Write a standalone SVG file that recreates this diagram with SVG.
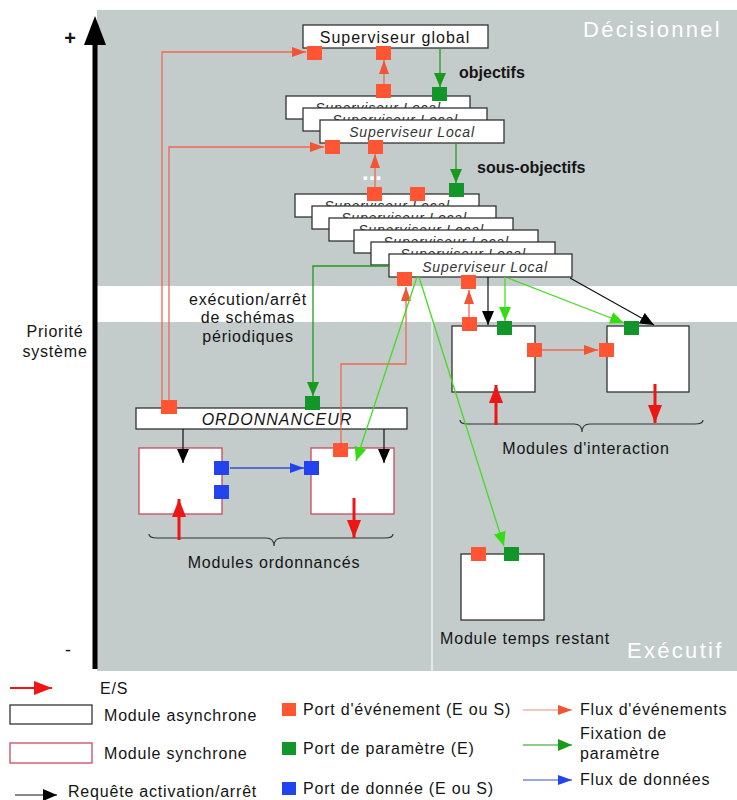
<svg xmlns="http://www.w3.org/2000/svg" width="737" height="800" viewBox="0 0 737 800">
<style>
text{font-family:"Liberation Sans",Arial,sans-serif;fill:#151515}
.t16{font-size:16px;letter-spacing:0.8px}
.bold{font-size:16px;font-weight:bold}
.big{font-size:22px;fill:#ffffff;letter-spacing:2.3px}
.loc{font-size:14px;font-style:italic;letter-spacing:0.8px;fill:#333}
.box{fill:#ffffff;stroke:#333;stroke-width:1.3}
.sync{fill:#ffffff;stroke:#c84a5e;stroke-width:1.3}
.pe{fill:#ff5533}
.pp{fill:#11962a}
.pd{fill:#2244ee}
.ev{fill:none;stroke:#ee6a50;stroke-width:1.3}
.gd{fill:none;stroke:#229a22;stroke-width:1.3}
.gl{fill:none;stroke:#44dd22;stroke-width:1.3}
.bk{fill:none;stroke:#111;stroke-width:1.2}
.bl{fill:none;stroke:#3350cc;stroke-width:1.3}
.io{fill:none;stroke:#ee1515;stroke-width:3}
.brace{fill:none;stroke:#333;stroke-width:1.2}
</style>
<defs>
<marker id="mEv" viewBox="0 0 14 10" refX="14" refY="5" markerWidth="14" markerHeight="10" orient="auto" markerUnits="userSpaceOnUse"><path d="M0,0 L14,5 L0,10 z" fill="#f25535"/></marker>
<marker id="mGd" viewBox="0 0 14 12" refX="14" refY="6" markerWidth="14" markerHeight="12" orient="auto" markerUnits="userSpaceOnUse"><path d="M0,0 L14,6 L0,12 z" fill="#1a9a1a"/></marker>
<marker id="mGl" viewBox="0 0 14 12" refX="14" refY="6" markerWidth="14" markerHeight="12" orient="auto" markerUnits="userSpaceOnUse"><path d="M0,0 L14,6 L0,12 z" fill="#33dd11"/></marker>
<marker id="mBk" viewBox="0 0 14 12" refX="14" refY="6" markerWidth="14" markerHeight="12" orient="auto" markerUnits="userSpaceOnUse"><path d="M0,0 L14,6 L0,12 z" fill="#000"/></marker>
<marker id="mBl" viewBox="0 0 14 10" refX="14" refY="5" markerWidth="14" markerHeight="10" orient="auto" markerUnits="userSpaceOnUse"><path d="M0,0 L14,5 L0,10 z" fill="#2244ee"/></marker>
<marker id="mIo" viewBox="0 0 18 14" refX="18" refY="7" markerWidth="18" markerHeight="14" orient="auto" markerUnits="userSpaceOnUse"><path d="M0,0 L18,7 L0,14 z" fill="#ee1515"/></marker>
<clipPath id="c1a" clipPathUnits="userSpaceOnUse"><rect x="286" y="96" width="184" height="12"/></clipPath>
<clipPath id="c1b" clipPathUnits="userSpaceOnUse"><rect x="303" y="108" width="184" height="12"/></clipPath>
<clipPath id="c2a" clipPathUnits="userSpaceOnUse"><rect x="295" y="194" width="184" height="12"/></clipPath>
<clipPath id="c2b" clipPathUnits="userSpaceOnUse"><rect x="312" y="206" width="184" height="12"/></clipPath>
<clipPath id="c2c" clipPathUnits="userSpaceOnUse"><rect x="329" y="218" width="184" height="12"/></clipPath>
<clipPath id="c2d" clipPathUnits="userSpaceOnUse"><rect x="354" y="230" width="184" height="12"/></clipPath>
<clipPath id="c2e" clipPathUnits="userSpaceOnUse"><rect x="371" y="242" width="184" height="12"/></clipPath>
</defs>

<g id="background">
<rect x="97" y="10" width="640" height="661" fill="#c3cbcb"/>
<rect x="97" y="286" width="640" height="36" fill="#ffffff"/>
<line x1="432" y1="322" x2="432" y2="671" stroke="#eef1f1" stroke-width="1.5"/>
<text class="big" x="583" y="37">Décisionnel</text>
<text class="big" x="627" y="658">Exécutif</text>
</g>

<g id="axis">
<line x1="95" y1="669" x2="95" y2="42" stroke="#000" stroke-width="5"/>
<path d="M84,45 L95,16 L106,45 z" fill="#000"/>
<text x="70" y="45" font-size="20" text-anchor="middle" font-weight="bold">+</text>
<text x="68" y="656" font-size="18" text-anchor="middle">-</text>
<text class="t16" x="55" y="337" text-anchor="middle">Priorité</text>
<text class="t16" x="55" y="357" text-anchor="middle">système</text>
</g>

<g id="superviseur-global">
<rect class="box" x="303" y="25" width="185" height="23"/>
<text x="395" y="43" font-size="16" letter-spacing="1" text-anchor="middle">Superviseur global</text>
</g>

<g id="superviseurs-locaux-1">
<rect class="box" x="286" y="96" width="184" height="23"/>
<text class="loc" x="378" y="113" text-anchor="middle" clip-path="url(#c1a)">Superviseur Local</text>
<rect class="box" x="303" y="108" width="184" height="23"/>
<text class="loc" x="395" y="125" text-anchor="middle" clip-path="url(#c1b)">Superviseur Local</text>
<rect class="box" x="320" y="120" width="184" height="23"/>
<text class="loc" x="412" y="137" text-anchor="middle">Superviseur Local</text>
</g>

<g id="superviseurs-locaux-2">
<rect class="box" x="295" y="194" width="184" height="23"/>
<text class="loc" x="387" y="211" text-anchor="middle" clip-path="url(#c2a)">Superviseur Local</text>
<rect class="box" x="312" y="206" width="184" height="23"/>
<text class="loc" x="404" y="223" text-anchor="middle" clip-path="url(#c2b)">Superviseur Local</text>
<rect class="box" x="329" y="218" width="184" height="23"/>
<text class="loc" x="421" y="235" text-anchor="middle" clip-path="url(#c2c)">Superviseur Local</text>
<rect class="box" x="354" y="230" width="184" height="23"/>
<text class="loc" x="446" y="247" text-anchor="middle" clip-path="url(#c2d)">Superviseur Local</text>
<rect class="box" x="371" y="242" width="184" height="23"/>
<text class="loc" x="463" y="259" text-anchor="middle" clip-path="url(#c2e)">Superviseur Local</text>
<rect class="box" x="389" y="254" width="183" height="23"/>
<text class="loc" x="485" y="272" text-anchor="middle">Superviseur Local</text>
</g>

<g id="ordonnanceur">
<rect class="box" x="136" y="408" width="271" height="21"/>
<text x="277" y="425" font-size="16" font-style="italic" letter-spacing="1" text-anchor="middle">ORDONNANCEUR</text>
</g>

<g id="module-ordonnance-1">
<rect class="sync" x="139" y="448" width="83" height="66"/>
</g>
<g id="module-ordonnance-2">
<rect class="sync" x="311" y="448" width="83" height="66"/>
</g>
<g id="module-interaction-1">
<rect class="box" x="452" y="326" width="83" height="66"/>
</g>
<g id="module-interaction-2">
<rect class="box" x="607" y="326" width="82" height="66"/>
</g>
<g id="module-temps-restant">
<rect class="box" x="461" y="554" width="83" height="66"/>
<text class="t16" x="525" y="644" text-anchor="middle">Module temps restant</text>
</g>

<g id="labels">
<text class="bold" x="459" y="78">objectifs</text>
<text class="bold" x="477" y="173">sous-objectifs</text>
<text x="372" y="180" font-size="24" font-weight="bold" style="fill:#ffffff" text-anchor="middle">...</text>
<text class="t16" x="248" y="305" text-anchor="middle">exécution/arrêt</text>
<text class="t16" x="248" y="323" text-anchor="middle">de schémas</text>
<text class="t16" x="248" y="342" text-anchor="middle">périodiques</text>
<path class="brace" d="M149,534 q0,4 8,4 H266 q8,0 8,8 q0,-8 8,-8 H385 q8,0 8,-4"/>
<text class="t16" x="274" y="568" text-anchor="middle">Modules ordonnancés</text>
<path class="brace" d="M460,420 q0,4 8,4 H574 q8,0 8,8 q0,-8 8,-8 H695 q8,0 8,-4"/>
<text class="t16" x="586" y="454" text-anchor="middle">Modules d'interaction</text>
</g>

<g id="connectors">
<path class="ev" d="M162,400 V52 H306" marker-end="url(#mEv)"/>
<path class="ev" d="M169,400 V147 H324" marker-end="url(#mEv)"/>
<path class="ev" d="M384,84 V60" marker-end="url(#mEv)"/>
<path class="ev" d="M375,187 V154" marker-end="url(#mEv)"/>
<path class="ev" d="M341,443 V364 H406 V287" marker-end="url(#mEv)"/>
<path class="ev" d="M469,317 V290" marker-end="url(#mEv)"/>
<path class="ev" d="M542,350 H598" marker-end="url(#mEv)"/>
<path class="gd" d="M440,48 V87" marker-end="url(#mGd)"/>
<path class="gd" d="M456,143 V183" marker-end="url(#mGd)"/>
<path class="gd" d="M389,266 H313 V396" marker-end="url(#mGd)"/>
<path class="gl" d="M505,277 V321" marker-end="url(#mGl)"/>
<path class="gl" d="M508,278 L624,323" marker-end="url(#mGl)"/>
<path class="gl" d="M417,277 L356,461" marker-end="url(#mGl)"/>
<path class="gl" d="M419,277 L504,546" marker-end="url(#mGl)"/>
<path class="bk" d="M488,277 V325" marker-end="url(#mBk)"/>
<path class="bk" d="M570,278 L654,325" marker-end="url(#mBk)"/>
<path class="bk" d="M183,429 V463" marker-end="url(#mBk)"/>
<path class="bk" d="M384,429 V463" marker-end="url(#mBk)"/>
<path class="bl" d="M230,468 H304" marker-end="url(#mBl)"/>
<path class="io" d="M496,425 V385" marker-end="url(#mIo)"/>
<path class="io" d="M655,384 V423" marker-end="url(#mIo)"/>
<path class="io" d="M179,540 V499" marker-end="url(#mIo)"/>
<path class="io" d="M354,498 V538" marker-end="url(#mIo)"/>
</g>

<g id="ports">
<rect class="pe" x="307" y="46" width="15" height="14"/>
<rect class="pe" x="376" y="46" width="15" height="14"/>
<rect class="pe" x="376" y="84" width="15" height="14"/>
<rect class="pe" x="325" y="140" width="15" height="14"/>
<rect class="pe" x="368" y="140" width="15" height="14"/>
<rect class="pe" x="367" y="187" width="15" height="14"/>
<rect class="pe" x="410" y="187" width="15" height="14"/>
<rect class="pe" x="397" y="272" width="15" height="14"/>
<rect class="pe" x="461" y="275" width="15" height="14"/>
<rect class="pe" x="462" y="317" width="15" height="14"/>
<rect class="pe" x="527" y="343" width="15" height="14"/>
<rect class="pe" x="599" y="343" width="15" height="14"/>
<rect class="pe" x="161" y="400" width="16" height="14"/>
<rect class="pe" x="333" y="443" width="15" height="14"/>
<rect class="pe" x="471" y="547" width="15" height="14"/>
<rect class="pp" x="432" y="87" width="15" height="14"/>
<rect class="pp" x="449" y="183" width="15" height="14"/>
<rect class="pp" x="497" y="321" width="15" height="14"/>
<rect class="pp" x="624" y="321" width="15" height="14"/>
<rect class="pp" x="305" y="396" width="15" height="14"/>
<rect class="pp" x="504" y="547" width="15" height="14"/>
<rect class="pd" x="214" y="461" width="15" height="14"/>
<rect class="pd" x="214" y="485" width="15" height="14"/>
<rect class="pd" x="304" y="461" width="15" height="14"/>
</g>

<g id="legend">
<path d="M10,688 H52" stroke="#ee1515" stroke-width="2" marker-end="url(#mIo)"/>
<text class="t16" x="100" y="694">E/S</text>
<rect class="box" x="10" y="705" width="82" height="19"/>
<text class="t16" x="104" y="721">Module asynchrone</text>
<rect class="sync" x="10" y="743" width="82" height="20"/>
<text class="t16" x="104" y="759">Module synchrone</text>
<path d="M15,795 H57" stroke="#111" stroke-width="1.2" marker-end="url(#mBk)"/>
<text class="t16" x="68" y="797">Requête activation/arrêt</text>
<rect class="pe" x="282" y="703" width="14" height="13"/>
<text class="t16" x="303" y="715">Port d'événement (E ou S)</text>
<rect class="pp" x="282" y="742" width="14" height="13"/>
<text class="t16" x="303" y="754">Port de paramètre (E)</text>
<rect class="pd" x="282" y="782" width="14" height="13"/>
<text class="t16" x="303" y="794">Port de donnée (E ou S)</text>
<path d="M523,710 H572" stroke="#ee8a80" stroke-width="1.2" marker-end="url(#mEv)"/>
<text class="t16" x="580" y="715">Flux d'événements</text>
<path d="M523,745 H572" stroke="#229a22" stroke-width="1.2" marker-end="url(#mGd)"/>
<text class="t16" x="580" y="739">Fixation de</text>
<text class="t16" x="580" y="759">paramètre</text>
<path d="M523,780 H572" stroke="#3350cc" stroke-width="1.2" marker-end="url(#mBl)"/>
<text class="t16" x="580" y="785">Flux de données</text>
</g>
</svg>
